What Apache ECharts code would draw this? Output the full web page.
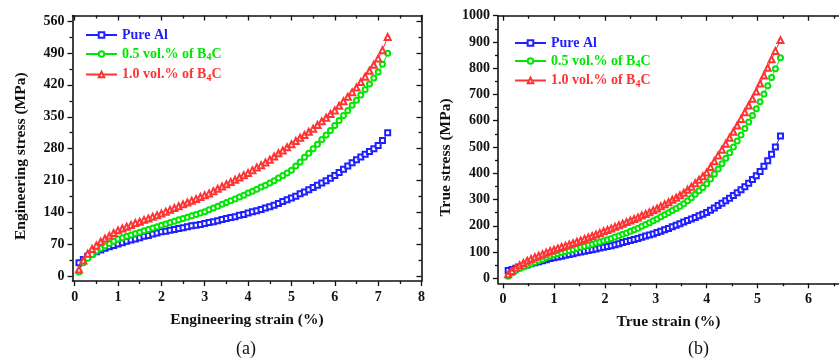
<!DOCTYPE html>
<html>
<head>
<meta charset="utf-8">
<script src="https://cdn.jsdelivr.net/npm/echarts@6/dist/echarts.min.js"></script>
<style>
html,body{margin:0;padding:0;background:#fff;}
#c{width:839px;height:362px;}
</style>
</head>
<body>
<div id="c"></div>
<script>
// ---------- DATA ----------
const seriesNames = ['Pure Al', '0.5 vol.% of B4C', '1.0 vol.% of B4C'];

const engStrain = [0.1,0.2,0.3,0.4,0.5,0.6,0.7,0.8,0.9,1.0,1.1,1.2,1.3,1.4,1.5,1.6,1.7,1.8,1.9,2.0,
  2.1,2.2,2.3,2.4,2.5,2.6,2.7,2.8,2.9,3.0,3.1,3.2,3.3,3.4,3.5,3.6,3.7,3.8,3.9,4.0,
  4.1,4.2,4.3,4.4,4.5,4.6,4.7,4.8,4.9,5.0,5.1,5.2,5.3,5.4,5.5,5.6,5.7,5.8,5.9,6.0,
  6.1,6.2,6.3,6.4,6.5,6.6,6.7,6.8,6.9,7.0,7.1,7.22];
const engPureAl = [30,37,44,49,54,58,62,65,68,71,74,77,80,82,85,88,90,93,95,98,
  99,101,103,105,107,109,111,112,114,116,118,120,122,125,127,129,131,134,136,139,
  142,144,147,150,153,156,160,164,168,172,176,181,185,190,195,200,205,210,215,221,
  228,235,242,249,256,262,268,274,280,287,298,315];
const engB4C05 = [10,30,40,48,55,61,67,72,77,82,85,88,91,94,97,100,103,106,109,112,
  115,118,121,124,127,130,133,136,139,142,146,150,154,158,162,166,170,174,178,183,
  187,191,196,200,205,210,216,221,227,233,242,251,261,270,280,290,300,310,320,331,
  342,353,364,375,386,398,410,422,435,448,465,489];
const engB4C10 = [15,35,50,60,68,76,83,89,95,101,105,109,113,117,120,124,127,131,134,138,
  142,146,150,154,158,162,166,170,174,178,182,187,192,197,202,207,212,217,222,227,
  233,239,244,250,256,263,270,276,283,290,297,304,310,317,324,332,340,348,356,364,
  374,384,394,404,414,426,438,451,464,478,496,525];

const trueStrain = [0.1,0.175,0.25,0.325,0.4,0.475,0.55,0.625,0.7,0.775,0.85,0.925,1.0,1.075,1.15,1.225,1.3,1.375,1.45,1.525,
  1.6,1.675,1.75,1.825,1.9,1.975,2.05,2.125,2.2,2.275,2.35,2.425,2.5,2.575,2.65,2.725,2.8,2.875,2.95,3.025,
  3.1,3.175,3.25,3.325,3.4,3.475,3.55,3.625,3.7,3.775,3.85,3.925,4.0,4.075,4.15,4.225,4.3,4.375,4.45,4.525,
  4.6,4.675,4.75,4.825,4.9,4.975,5.05,5.125,5.2,5.275,5.35,5.45];
const truePureAl = [30,34,38,43,47,51,55,59,63,67,71,75,78,81,84,88,91,94,97,100,
  103,106,109,112,115,118,121,124,128,132,136,140,144,148,152,156,161,165,169,174,
  179,185,190,196,202,208,214,220,226,232,238,244,251,259,268,277,286,295,305,315,
  326,337,349,362,376,391,407,427,448,472,500,542];
const trueB4C05 = [8,20,30,37,43,49,55,61,67,73,79,85,90,94,98,102,106,110,114,118,
  122,126,130,134,138,143,147,152,157,162,168,173,179,185,191,198,205,212,219,226,
  234,242,250,258,266,274,284,295,307,320,333,346,360,378,397,416,436,457,478,500,
  523,546,570,595,620,646,672,702,733,765,798,840];
const trueB4C10 = [15,28,40,50,58,67,74,80,86,92,98,104,109,114,119,124,129,134,139,144,
  150,155,161,167,173,179,184,190,196,202,208,214,220,226,232,239,245,252,259,266,
  274,282,290,299,307,316,326,337,349,362,375,389,403,424,446,468,490,512,535,558,
  582,607,632,658,684,711,742,772,802,834,866,907];

const engStressTicks = [0,70,140,210,280,350,420,490,560];
const engStressMinor = [35,105,175,245,315,385,455,525];
const engStrainTicks = [0,1,2,3,4,5,6,7,8];
const engStrainMinor = [0.5,1.5,2.5,3.5,4.5,5.5,6.5,7.5];
const trueStressTicks = [0,100,200,300,400,500,600,700,800,900,1000];
const trueStressMinor = [50,150,250,350,450,550,650,750,850,950];
const trueStrainTicks = [0,1,2,3,4,5,6];
const trueStrainMinor = [0.5,1.5,2.5,3.5,4.5,5.5,6.5];

// ---------- STYLE ----------
const colors = ['#1f1fff', '#00e600', '#ff3333'];
const symbols = ['emptyRect', 'emptyCircle', 'emptyTriangle'];
const symSizes = [5, 5, 6];
const FONT = 'Liberation Serif';
const lineCol = '#111';
const labelStyle = {fontFamily:FONT, fontWeight:'bold', fontSize:14, color:'#111', formatter: v => String(v)};
const nameStyle = {fontFamily:FONT, fontWeight:'bold', fontSize:15.5, color:'#111'};

function zip(xs, ys){ return xs.map((x,i)=>[x, ys[i]]); }

function xAxes(gi, min, max, major, minor, name, nameGap){
  const base = {type:'value', gridIndex:gi, min:min, max:max, splitLine:{show:false}};
  return [
    Object.assign({}, base, {position:'bottom', name:name, nameLocation:'middle', nameGap:nameGap,
      nameTextStyle:nameStyle,
      axisLine:{onZero:false, lineStyle:{color:lineCol, width:1.6}},
      axisTick:{customValues:major, length:5, lineStyle:{color:lineCol, width:1.3}},
      axisLabel:Object.assign({customValues:major, margin:9}, labelStyle)}),
    Object.assign({}, base, {position:'bottom', axisLine:{show:false, onZero:false},
      axisTick:{customValues:minor, length:3, lineStyle:{color:lineCol, width:1.3}},
      axisLabel:{show:false}}),
    Object.assign({}, base, {position:'top', axisLine:{onZero:false, lineStyle:{color:lineCol, width:1.6}},
      axisTick:{customValues:major, inside:true, length:5, lineStyle:{color:lineCol, width:1.3}},
      axisLabel:{show:false}}),
    Object.assign({}, base, {position:'top', axisLine:{show:false, onZero:false},
      axisTick:{customValues:minor, inside:true, length:3, lineStyle:{color:lineCol, width:1.3}},
      axisLabel:{show:false}})
  ];
}
function yAxes(gi, min, max, major, minor, name, nameGap, showRight){
  const base = {type:'value', gridIndex:gi, min:min, max:max, splitLine:{show:false}};
  const arr = [
    Object.assign({}, base, {position:'left', name:name, nameLocation:'middle', nameGap:nameGap,
      nameTextStyle:Object.assign({padding:[0,16,0,0]}, nameStyle),
      axisLine:{onZero:false, lineStyle:{color:lineCol, width:1.6}},
      axisTick:{customValues:major, length:5, lineStyle:{color:lineCol, width:1.3}},
      axisLabel:Object.assign({customValues:major, margin:8}, labelStyle)}),
    Object.assign({}, base, {position:'left', axisLine:{show:false, onZero:false},
      axisTick:{customValues:minor, length:3, lineStyle:{color:lineCol, width:1.3}},
      axisLabel:{show:false}})
  ];
  if (showRight){
    arr.push(Object.assign({}, base, {position:'right', axisLine:{onZero:false, lineStyle:{color:lineCol, width:1.6}},
      axisTick:{customValues:major, inside:true, length:5, lineStyle:{color:lineCol, width:1.3}},
      axisLabel:{show:false}}));
    arr.push(Object.assign({}, base, {position:'right', axisLine:{show:false, onZero:false},
      axisTick:{customValues:minor, inside:true, length:3, lineStyle:{color:lineCol, width:1.3}},
      axisLabel:{show:false}}));
  }
  return arr;
}

function legendFor(left, top, gap){
  return {
    orient:'vertical', left:left, top:top, itemWidth:31, itemHeight:7, itemGap:gap,
    selectedMode:false,
    formatter: n => n.replace('B4C', 'B{sub|4}C'),
    data: seriesNames.map((n,i)=>({name:n, textStyle:{color:colors[i], fontFamily:FONT, fontWeight:'bold', fontSize:14,
      rich:{sub:{color:colors[i], fontFamily:FONT, fontWeight:'bold', fontSize:10, verticalAlign:'bottom', padding:[7,0,0,0]}}}})),
    textStyle:{fontFamily:FONT, fontWeight:'bold', fontSize:14}
  };
}

const engData = [engPureAl, engB4C05, engB4C10];
const trueData = [truePureAl, trueB4C05, trueB4C10];

const series = [];
engData.forEach((d,i)=>series.push({
  type:'line', name:seriesNames[i], xAxisIndex:0, yAxisIndex:0, data:zip(engStrain, d),
  symbol:symbols[i], symbolSize:symSizes[i], showAllSymbol:true, animation:false,
  itemStyle:{color:colors[i], borderWidth:1}, lineStyle:{color:colors[i], width:1}
}));
trueData.forEach((d,i)=>series.push({
  type:'line', name:seriesNames[i], xAxisIndex:4, yAxisIndex:4, data:zip(trueStrain, d),
  symbol:symbols[i], symbolSize:symSizes[i], showAllSymbol:true, animation:false,
  itemStyle:{color:colors[i], borderWidth:1}, lineStyle:{color:colors[i], width:1}
}));

const option = {
  backgroundColor:'#fff',
  animation:false,
  grid:[
    {left:72.5, top:15.5, right:417.5, bottom:81},
    {left:498, top:15.7, right:-13, bottom:78.7}
  ],
  xAxis: xAxes(0, -0.05, 8, engStrainTicks, engStrainMinor, 'Engineering strain (%)', 31)
    .concat(xAxes(1, -0.1, 6.6, trueStrainTicks, trueStrainMinor, 'True strain (%)', 31)),
  yAxis: yAxes(0, -10, 572, engStressTicks, engStressMinor, 'Engineering stress (MPa)', 44, true)
    .concat(yAxes(1, -19, 1000, trueStressTicks, trueStressMinor, 'True stress (MPa)', 44, false)),
  legend:[legendFor(80, 23, 5), legendFor(509, 31, 4)],
  graphic:[
    {type:'text', left:236, top:340, style:{text:'(a)', font:'18px "Liberation Serif"', fill:'#111'}},
    {type:'text', left:688, top:340, style:{text:'(b)', font:'18px "Liberation Serif"', fill:'#111'}}
  ],
  series: series
};
const chart = echarts.init(document.getElementById('c'), null, {renderer:'canvas'});
chart.setOption(option);
</script>
</body>
</html>
